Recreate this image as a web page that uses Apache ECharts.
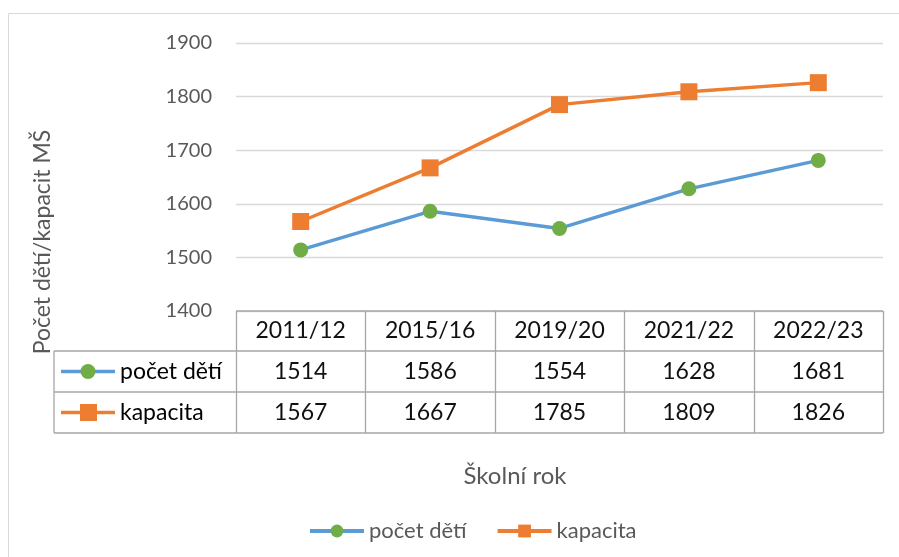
<!DOCTYPE html>
<html><head><meta charset="utf-8">
<script src="https://cdn.jsdelivr.net/npm/echarts@6/dist/echarts.min.js"></script>
<style>html,body{margin:0;padding:0;background:#fff}#c{width:899px;height:557px}</style>
</head><body><div id="c"></div>
<script>
const categories = ['2011/12', '2015/16', '2019/20', '2021/22', '2022/23'];
const pocetDeti = [1514, 1586, 1554, 1628, 1681];
const kapacita = [1567, 1667, 1785, 1809, 1826];
const seriesNames = ['počet dětí', 'kapacita'];
const yAxisTitle = 'Počet dětí/kapacit MŠ';
const xAxisTitle = 'Školní rok';

const FONT = 'Lato';
const BLUE = '#5B9BD5', GREEN = '#70AD47', ORANGE = '#ED7D31';
const chart = echarts.init(document.getElementById('c'));

const GL = 236, GR = 883, GT = 43, GB = 311;
const option = {
  animation: false,
  textStyle: { fontFamily: FONT },
  grid: { left: GL, right: 899 - GR, top: GT, bottom: 557 - GB, containLabel: false },
  xAxis: {
    type: 'category', data: categories, boundaryGap: true,
    axisLine: { show: false }, axisTick: { show: false },
    axisLabel: { color: '#111', fontSize: 23, margin: 8, fontFamily: FONT },
    splitLine: { show: false }
  },
  yAxis: {
    type: 'value', min: 1400, max: 1900, interval: 100,
    axisLine: { show: false }, axisTick: { show: false },
    axisLabel: { color: '#595959', fontSize: 20, margin: 24, fontFamily: FONT,
      formatter: v => String(v) },
    splitLine: { lineStyle: { color: '#d9d9d9', width: 1.3 } }
  },
  legend: {
    top: 515, left: 303, itemWidth: 54, itemHeight: 16, itemGap: 29,
    textStyle: { color: '#595959', fontSize: 22, fontFamily: FONT },
    lineStyle: { width: 4 },
    data: seriesNames
  },
  series: [
    { name: seriesNames[0], type: 'line', data: pocetDeti, symbol: 'circle', symbolSize: 15,
      lineStyle: { color: BLUE, width: 3.4 }, itemStyle: { color: GREEN } },
    { name: seriesNames[1], type: 'line', data: kapacita, symbol: 'rect', symbolSize: 17,
      lineStyle: { color: ORANGE, width: 3.4 }, itemStyle: { color: ORANGE } }
  ]
};
chart.setOption(option);

const g = [];
// axis titles
g.push({ type: 'text', silent: true, x: 43, y: 242, rotation: Math.PI / 2,
  style: { text: yAxisTitle, fill: '#595959', font: '23px ' + FONT, align: 'center', verticalAlign: 'middle' } });
g.push({ type: 'text', silent: true, x: 515, y: 476,
  style: { text: xAxisTitle, fill: '#595959', font: '24px ' + FONT, align: 'center', verticalAlign: 'middle' } });

// data table
const rowLines = [GB, 351, 392, 433];
const TL = 54;
const line = (x1, y1, x2, y2) => ({ type: 'line', silent: true, z: 10,
  shape: { x1, y1, x2, y2 }, style: { stroke: '#a6a6a6', lineWidth: 1.3 } });
g.push(line(GL, rowLines[0], GR, rowLines[0]));
for (let r = 1; r < rowLines.length; r++) g.push(line(TL, rowLines[r], GR, rowLines[r]));
g.push(line(TL, rowLines[1], TL, rowLines[3]));
const colW = (GR - GL) / categories.length;
for (let i = 0; i <= categories.length; i++) {
  const x = Math.round(GL + i * colW) + 0.5;
  g.push(line(x, rowLines[0], x, rowLines[3]));
}
const rows = [pocetDeti, kapacita];
rows.forEach((vals, r) => {
  const yc = (rowLines[r + 1] + rowLines[r + 2]) / 2;
  vals.forEach((v, i) => {
    const xc = chart.convertToPixel({ xAxisIndex: 0 }, i);
    g.push({ type: 'text', silent: true, z: 10, x: xc, y: yc,
      style: { text: String(v), fill: '#111', font: '23px ' + FONT, align: 'center', verticalAlign: 'middle' } });
  });
  // legend keys
  const col = r === 0 ? BLUE : ORANGE;
  g.push({ type: 'line', silent: true, z: 10, shape: { x1: 61, y1: yc, x2: 115, y2: yc },
    style: { stroke: col, lineWidth: 3.4 } });
  if (r === 0) g.push({ type: 'circle', silent: true, z: 11, shape: { cx: 88, cy: yc, r: 7.5 }, style: { fill: GREEN } });
  else g.push({ type: 'rect', silent: true, z: 11, shape: { x: 80, y: yc - 8.5, width: 17, height: 17 }, style: { fill: ORANGE } });
  g.push({ type: 'text', silent: true, z: 10, x: 120, y: yc,
    style: { text: seriesNames[r], fill: '#000', font: '23px ' + FONT, verticalAlign: 'middle' } });
});
// outer chart border
g.push({ type: 'rect', silent: true, z: 0, shape: { x: 8.5, y: 13.5, width: 900, height: 560 },
  style: { fill: 'none', stroke: '#d9d9d9', lineWidth: 1 } });
chart.setOption({ graphic: g });
</script></body></html>
